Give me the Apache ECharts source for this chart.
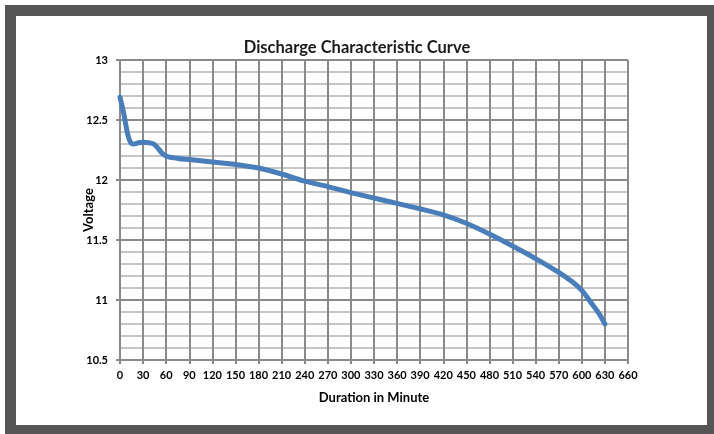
<!DOCTYPE html>
<html>
<head>
<meta charset="utf-8">
<script src="https://cdn.jsdelivr.net/npm/echarts@6.0.0/dist/echarts.min.js"></script>
<style>
html,body{margin:0;padding:0;background:#fff;width:714px;height:434px;overflow:hidden;}
#frame{position:absolute;left:5px;top:5px;width:691px;height:409px;border-style:solid;border-color:#555555;border-width:11px 7px 9px 11px;}
#chart{position:absolute;left:0;top:0;width:714px;height:434px;}
</style>
</head>
<body>
<div id="frame"></div>
<div id="chart"></div>
<script>
const titleText = 'Discharge Characteristic Curve';
const xAxisName = 'Duration in Minute';
const yAxisName = 'Voltage';
const minutes = [0, 5, 10, 14, 18, 24, 30, 38, 44, 50, 56, 62, 75, 90, 120, 150, 180, 210, 240, 270, 300, 330, 360, 390, 420, 450, 480, 510, 540, 570, 588, 600, 614, 622, 630];
const voltage = [12.69, 12.55, 12.38, 12.31, 12.30, 12.31, 12.315, 12.31, 12.30, 12.26, 12.215, 12.195, 12.18, 12.17, 12.15, 12.13, 12.10, 12.05, 11.99, 11.945, 11.895, 11.85, 11.805, 11.76, 11.71, 11.64, 11.55, 11.45, 11.345, 11.23, 11.15, 11.08, 10.96, 10.89, 10.80];

const chart = echarts.init(document.getElementById('chart'), null, {renderer: 'canvas'});
const gridColor = '#8a8a8a';
const labelFont = {fontFamily: 'Lato', fontWeight: 'bold', fontSize: 11, color: '#000'};
chart.setOption({
  backgroundColor: 'transparent',
  animation: false,
  title: {
    text: titleText,
    left: 'center',
    top: 34,
    textStyle: {fontFamily: 'Lato', fontWeight: 'bold', fontSize: 16.5, color: '#1a1a1a'}
  },
  grid: {left: 120, right: 86, top: 60, bottom: 74, outerBoundsMode: 'none'},
  xAxis: {
    type: 'value',
    min: 0, max: 660, interval: 30,
    name: xAxisName,
    nameLocation: 'middle',
    nameGap: 31,
    nameMoveOverlap: false,
    nameTextStyle: {fontFamily: 'Lato', fontWeight: 'bold', fontSize: 13, color: '#000'},
    axisLine: {show: true, lineStyle: {color: gridColor, width: 2}},
    axisTick: {show: true, length: 4, lineStyle: {color: gridColor, width: 2}},
    axisLabel: Object.assign({margin: 10}, labelFont),
    splitLine: {show: true, lineStyle: {color: gridColor, width: 2}}
  },
  yAxis: {
    type: 'value',
    min: 10.5, max: 13, interval: 0.5,
    name: yAxisName,
    nameLocation: 'middle',
    nameRotate: 90,
    nameGap: 25,
    nameMoveOverlap: false,
    nameTextStyle: {fontFamily: 'Lato', fontWeight: 'bold', fontSize: 13, color: '#000'},
    axisLine: {show: true, lineStyle: {color: gridColor, width: 2}},
    axisTick: {show: true, length: 4, lineStyle: {color: gridColor, width: 2}},
    axisLabel: Object.assign({margin: 12}, labelFont),
    splitLine: {show: true, lineStyle: {color: gridColor, width: 2}},
    minorTick: {show: false, splitNumber: 5},
    minorSplitLine: {show: true, lineStyle: {color: '#c6c6c6', width: 2}}
  },
  series: [{
    type: 'line',
    data: minutes.map((m, i) => [m, voltage[i]]),
    smooth: 0.3,
    showSymbol: false,
    symbol: 'none',
    lineStyle: {color: '#4a7ebb', width: 5, cap: 'round', join: 'round'},
    z: 5
  }]
});
</script>
</body>
</html>
